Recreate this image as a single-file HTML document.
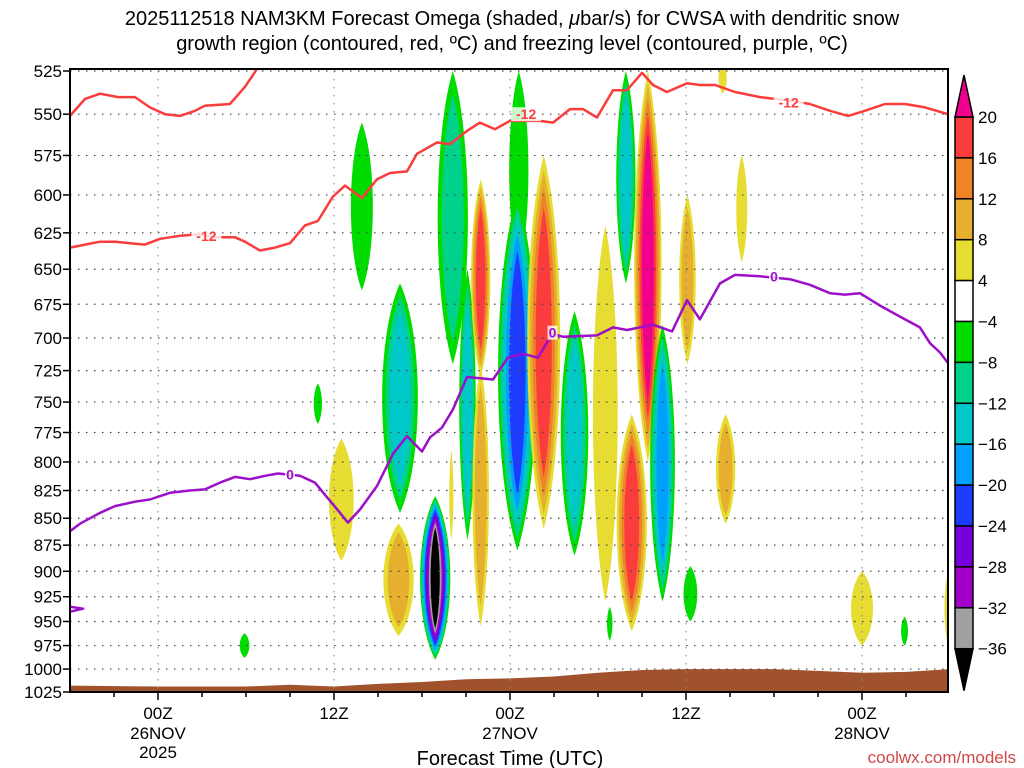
<!DOCTYPE html>
<html><head><meta charset="utf-8"><style>
body{margin:0;background:#fff;width:1024px;height:768px;overflow:hidden}
svg{display:block;font-family:"Liberation Sans",sans-serif}
</style></head><body>
<svg id="chart" width="1024" height="768">
<text x="512" y="25" text-anchor="middle" font-size="20">2025112518 NAM3KM Forecast Omega (shaded, <tspan font-style="italic">μ</tspan>bar/s) for CWSA with dendritic snow</text>
<text x="512" y="50" text-anchor="middle" font-size="20">growth region (contoured, red, ºC) and freezing level (contoured, purple, ºC)</text>
<defs><clipPath id="pc"><rect x="70" y="69" width="878" height="623"/></clipPath></defs>
<g id="shade" clip-path="url(#pc)"></g>
<g id="grid"></g>
<g id="lines" clip-path="url(#pc)"></g>
<rect x="70" y="69" width="878" height="623" fill="none" stroke="#000" stroke-width="2"/>
<g id="axes"></g>
<g id="cbar"></g>
<text x="510" y="765" text-anchor="middle" font-size="20">Forecast Time (UTC)</text>
<text x="1016" y="763" text-anchor="end" font-size="17" fill="#d04848">coolwx.com/models</text>
</svg>
<script>
const pTicks=[525,550,575,600,625,650,675,700,725,750,775,800,825,850,875,900,925,950,975,1000,1025];
const xTickHours=[0,12,24,36,48];
const xTickTop=["00Z","12Z","00Z","12Z","00Z"];
const xTickMid=["26NOV","","27NOV","","28NOV"];
const xTickBot=["2025","","","",""];
const cbLevels=[20,16,12,8,4,-4,-8,-12,-16,-20,-24,-28,-32,-36];
const posColors=["#e6dc32","#e6af2d","#f08228","#fa3c3c","#f0008c"];
const negColors=["#00dc00","#00d28c","#00c8c8","#00a0ff","#1e3cff","#7800dc","#a000c8","#a0a0a0","#000000"];
// blobs: [hour, pTop, pBottom, halfWidthHours, peakLevel]
const blobs=[
[13.9,555,665,0.8,-1],[5.9,962,988,0.35,-1],[10.9,735,768,0.3,-1],[16.5,660,845,1.3,-3],
[12.5,780,890,0.9,1],[16.4,855,965,1.1,2],[18.9,830,990,1.1,-9],[20.1,525,720,1.1,-2],
[21.1,650,870,0.6,-3],[22.0,590,730,0.7,4],[22.0,720,955,0.6,2],[24.6,525,650,0.7,-1],
[24.5,600,880,1.4,-5],[26.3,575,860,1.2,4],[28.4,680,885,1.0,-3],[30.5,620,930,0.9,1],
[31.9,525,660,0.7,-3],[33.4,525,800,1.0,5],[32.3,760,960,1.1,4],[34.4,690,930,0.9,-4],
[36.3,895,950,0.5,-1],[36.1,600,720,0.6,2],[39.8,575,645,0.4,1],[38.7,760,855,0.7,2],
[48.0,900,975,0.8,1],[50.9,945,975,0.25,-1],[53.9,900,975,0.3,1],[38.5,520,538,0.3,1],
[30.8,935,970,0.2,-1],[20.0,790,870,0.15,1]];
const redUpperH=[-6,-4.98,-3.95,-2.73,-1.57,-0.55,0.48,1.5,2.52,3.2,4.9,5.93,6.82];
const redUpperP=[551,541,538,540,540,546,550,551,548,545,544,534,523];
const redLowerH=[-6,-4.98,-3.95,-2.93,-1.91,-0.89,0.14,1.5,2.86,3.89,5.25,5.93,6.95,7.98,9,10.02,10.9,11.93,12.75,13.9,14.93,15.82,16.98,17.66,19.02,19.9,21.07,21.95,22.98,24,26.05,26.93,28.09,28.98,29.93,31.02,31.98,33,33.75,34.7,36.07,36.95,37.98,39.34,41.05,43.1,44.45,45.82,47.05,48.2,49.57,50.93,52.3,53.86];
const redLowerP=[635,633,631,631,632,633,629,627,626,628,628,631,637,635,632,620,617,601,594,602,590,586,585,574,567,568,560,555,559,554,554,555,547,547,552,536,536,526,533,537,532,533,533,537,540,542,544,548,551,548,544,544,546,550];
const purpleH=[-6,-5.32,-3.95,-2.93,-1.57,-0.55,0.82,2.18,3.2,4.23,5.25,6.27,7.3,8.18,9.68,10.7,11.59,12.41,12.95,13.77,14.93,16.02,16.98,18,18.55,19.36,20.11,21.07,22.84,23.86,24.89,25.91,26.86,27.61,29.93,31.02,31.98,33.75,35.05,36.07,36.95,38.32,39.34,41.05,43.1,44.45,45.82,46.84,47.86,49.23,50.59,51.95,52.64,53.32,53.86];
const purpleP=[862,855,845,839,835,833,827,825,824,818,813,815,812,810,812,818,832,845,854,842,821,793,778,791,779,771,756,730,732,715,712,715,697,699,698,692,694,690,695,672,686,660,654,655,657,661,667,668,667,676,684,692,704,711,719];
const purpleLoopH=[-6,-5.1,-6];
const purpleLoopP=[935,937,940];
const sfcH=[-6,0,6,9,12,15,18,21,24,27,30,33,36,42,45,48,51,54];
const sfcP=[1018,1019,1019,1017,1019,1016,1014,1011,1010,1008,1004,1001,1000,1000,1002,1004,1003,1000];

const NS="http://www.w3.org/2000/svg";
const X0=70,X1=948,Y0=71,Y1=692;
function xs(h){return 158+h*(176/12);}
function ys(p){return Y0+(Y1-Y0)*Math.log(p/525)/Math.log(1025/525);}
function mk(tag,attrs,parent){const e=document.createElementNS(NS,tag);for(const k in attrs)e.setAttribute(k,attrs[k]);parent.appendChild(e);return e;}
const shade=document.getElementById('shade'),grid=document.getElementById('grid'),lines=document.getElementById('lines'),axes=document.getElementById('axes'),cbar=document.getElementById('cbar');

function lens(cx,cy,rx,ry){
  return `M${cx},${cy-ry} C${cx+rx*1.25},${cy-ry*0.55} ${cx+rx*1.25},${cy+ry*0.55} ${cx},${cy+ry} C${cx-rx*1.25},${cy+ry*0.55} ${cx-rx*1.25},${cy-ry*0.55} ${cx},${cy-ry} Z`;
}
blobs.forEach((b,i)=>{
  const cx=xs(b[0]),yt=ys(b[1]),yb=ys(b[2]),cy=(yt+yb)/2,ry=(yb-yt)/2,rx=b[3]*176/12;
  const n=Math.abs(b[4]),cols=b[4]>0?posColors:negColors;
  for(let k=0;k<n;k++){
    const f=Math.pow(1-k/(n+0.5),0.65);
    const e=mk('path',{d:lens(cx,cy,rx*f,ry*(0.45+0.55*f)),fill:cols[k]},shade);
    
    
  }
});
{let d='M'+xs(sfcH[0])+','+Y1;sfcH.forEach((h,i)=>{d+=' L'+xs(h)+','+ys(sfcP[i]);});d+=' L'+xs(sfcH[sfcH.length-1])+','+Y1+' Z';
const t=mk('path',{d:d,fill:'#a0522d'},shade);

}

pTicks.forEach(p=>{const y=ys(p);
  const g=mk('line',{x1:X0,x2:X1,y1:y,y2:y,stroke:'#444','stroke-width':1.2,'stroke-dasharray':'1.5 6.5'},grid);
  
  
  const t=mk('line',{x1:X0-7,x2:X0,y1:y,y2:y,stroke:'#000','stroke-width':1.5},axes);
  
  
  const l=mk('text',{x:X0-8,y:y+6,'text-anchor':'end','font-size':17},axes);l.textContent=p;
  
  
});
for(let h=-3;h<=54;h+=3){const x=xs(h);if(x>X1)break;
  const t=mk('line',{x1:x,x2:x,y1:Y1,y2:Y1+(h%12===0?8:5),stroke:'#000','stroke-width':1.5},axes);
  
  }
xTickHours.forEach((h,i)=>{const x=xs(h);
  const g=mk('line',{x1:x,x2:x,y1:Y0,y2:Y1,stroke:'#888','stroke-width':1.2,'stroke-dasharray':'1.5 6.5'},grid);
  
  
  [[xTickTop[i],719],[xTickMid[i],739],[xTickBot[i],758]].forEach(a=>{if(!a[0])return;
    const l=mk('text',{x:x,y:a[1],'text-anchor':'middle','font-size':17},axes);l.textContent=a[0];
    
    });
});

function drawLine(H,P,col,name){let d='';H.forEach((h,i)=>{d+=(i?' L':'M')+xs(h).toFixed(1)+','+ys(P[i]).toFixed(1);});
  const e=mk('path',{d:d,fill:'none',stroke:col,'stroke-width':2.5,'stroke-linejoin':'round'},lines);
  
  }
drawLine(redUpperH,redUpperP,'#fa3c3c','dgz-contour-upper');
drawLine(redLowerH,redLowerP,'#fa3c3c','dgz-contour-lower');
drawLine(purpleH,purpleP,'#9b10c8','freezing-level');
drawLine(purpleLoopH,purpleLoopP,'#9b10c8','freezing-level-loop');
function lab(h,p,txt,col){const x=xs(h),y=ys(p);
  mk('rect',{x:x-(txt.length*5),y:y-7,width:txt.length*10,height:14,fill:'#fff','fill-opacity':0.8},lines);
  const t=mk('text',{x:x,y:y+5,'text-anchor':'middle','font-size':14,'font-weight':'bold',fill:col},lines);t.textContent=txt;
  
  }
lab(3.3,627,'-12','#fa3c3c');lab(25.1,550,'-12','#fa3c3c');lab(43.0,543,'-12','#fa3c3c');
lab(9.0,811,'0','#9b10c8');lab(26.9,696,'0','#9b10c8');lab(42.0,655,'0','#9b10c8');

const cbX=955,cbW=18,cbTop=117,cbStep=40.9;
const cbCols=["#fa3c3c","#f08228","#e6af2d","#e6dc32","#ffffff","#00dc00","#00d28c","#00c8c8","#00a0ff","#1e3cff","#7800dc","#a000c8","#a0a0a0"];
cbCols.forEach((c,i)=>{const r=mk('rect',{x:cbX,y:cbTop+i*cbStep,width:cbW,height:cbStep,fill:c,stroke:'#000','stroke-width':1.5},cbar);
  
  });
{const a=mk('polygon',{points:`${cbX},${cbTop} ${cbX+cbW},${cbTop} ${cbX+cbW/2},${cbTop-42}`,fill:'#f0008c',stroke:'#000','stroke-width':1.5},cbar);


const yb=cbTop+13*cbStep;
const b=mk('polygon',{points:`${cbX},${yb} ${cbX+cbW},${yb} ${cbX+cbW/2},${yb+42}`,fill:'#000',stroke:'#000','stroke-width':1.5},cbar);

}
cbLevels.forEach((v,i)=>{const t=mk('text',{x:978,y:cbTop+i*cbStep+6,'font-size':17},cbar);t.textContent=v<0?'−'+(-v):v;
  
  });
</script>
</body></html>
